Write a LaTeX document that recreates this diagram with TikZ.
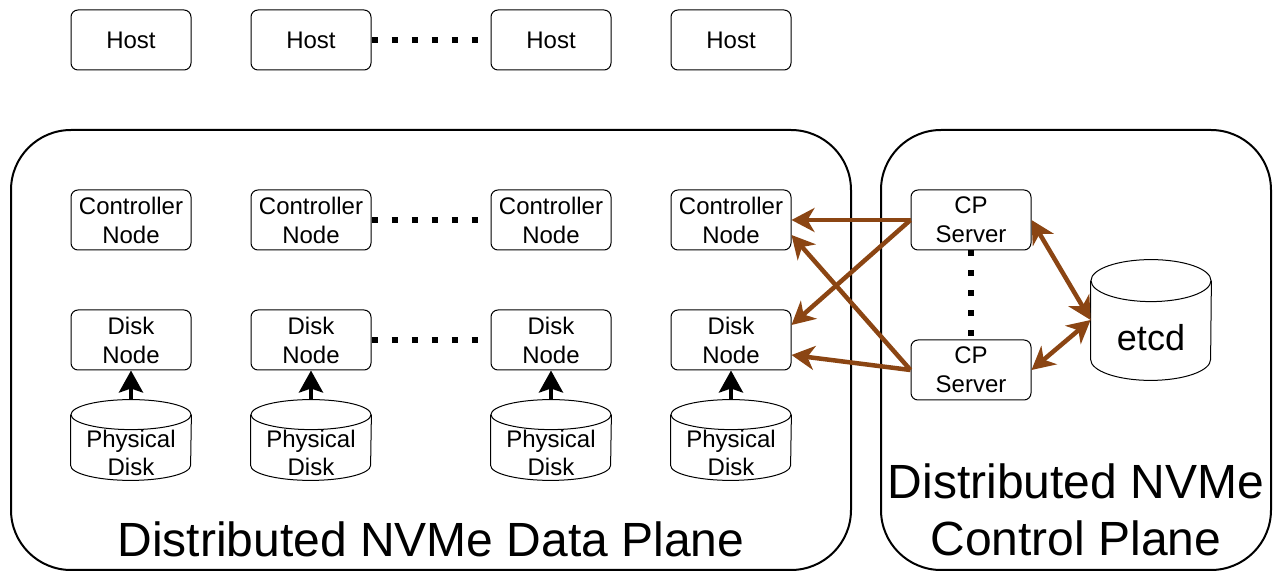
\documentclass[tikz,border=0pt]{standalone}
\usepackage{fontspec}
\setmainfont{Liberation Sans}
\usetikzlibrary{positioning, arrows.meta}
\definecolor{cpbrown}{HTML}{8B4513}

% cylinder outline round a named node: node, y radius of the ends
\newcommand{\drawdrum}[2]{%
    \draw[line width=0.5pt] ([yshift=-#2]#1.north) ellipse [x radius=30pt, y radius=#2];
    \draw[line width=0.5pt] ([yshift=-#2]#1.north west) -- ([yshift=#2]#1.south west)
        arc[start angle=180, end angle=360, x radius=30pt, y radius=#2] -- ([yshift=-#2]#1.north east);
}

\begin{document}
\begin{tikzpicture}[x=0.5pt, y=-0.5pt,
        box/.style={draw, rounded corners=3.5pt, line width=0.5pt, minimum width=60pt, minimum height=30pt, inner sep=0pt, align=center, font=\fontsize{12}{14.5}\selectfont},
        disk/.style={minimum width=60pt, minimum height=40pt, inner sep=0pt},
        disklabel/.style={align=center, font=\fontsize{12}{14}\selectfont},
        plane/.style={draw, line width=1pt, rounded corners=30pt},
        planelabel/.style={align=center, font=\fontsize{24}{28.5}\selectfont},
        dots/.style={line width=3pt, dash pattern=on 3pt off 7pt},
        feed/.style={-{Stealth[length=11pt, width=12pt, inset=2pt]}, line width=2pt},
        ctrl/.style={-{Stealth[length=11.5pt, width=12pt, inset=3.5pt]}, line width=2.25pt, draw=cpbrown},
        ctrlboth/.style={ctrl, {Stealth[length=11.5pt, width=12pt, inset=3.5pt]}-{Stealth[length=11.5pt, width=12pt, inset=3.5pt]}}
    ]
        \useasboundingbox (0,0) rectangle (1282,582);

        % Planes
        \draw[plane] (11,130) rectangle (851,570);
        \draw[plane] (881,130) rectangle (1271,570);
        \node[planelabel] (dplabel) at (431,539) {Distributed NVMe Data Plane};
        \node[planelabel] (cplabel) at (1076,510) {Distributed NVMe\\Control Plane};

        % Hosts
        \node[box] (h1) at (131,40) {Host};
        \node[box] (h2) at (311,40) {Host};
        \node[box] (h3) at (551,40) {Host};
        \node[box] (h4) at (731,40) {Host};

        % Controller nodes
        \node[box] (cn1) at (131,220) {Controller\\Node};
        \node[box] (cn2) at (311,220) {Controller\\Node};
        \node[box] (cn3) at (551,220) {Controller\\Node};
        \node[box] (cn4) at (731,220) {Controller\\Node};

        % Disk nodes
        \node[box] (dn1) at (131,340) {Disk\\Node};
        \node[box] (dn2) at (311,340) {Disk\\Node};
        \node[box] (dn3) at (551,340) {Disk\\Node};
        \node[box] (dn4) at (731,340) {Disk\\Node};

        % Physical disks
        \node[disk, label={[disklabel, yshift=-6.5pt]center:{Physical\\Disk}}] (pd1) at (131,440) {};
        \node[disk, label={[disklabel, yshift=-6.5pt]center:{Physical\\Disk}}] (pd2) at (311,440) {};
        \node[disk, label={[disklabel, yshift=-6.5pt]center:{Physical\\Disk}}] (pd3) at (551,440) {};
        \node[disk, label={[disklabel, yshift=-6.5pt]center:{Physical\\Disk}}] (pd4) at (731,440) {};
        \drawdrum{pd1}{7.5pt}
        \drawdrum{pd2}{7.5pt}
        \drawdrum{pd3}{7.5pt}
        \drawdrum{pd4}{7.5pt}

        \draw[feed] (pd1.north) -- (dn1.south);
        \draw[feed] (pd2.north) -- (dn2.south);
        \draw[feed] (pd3.north) -- (dn3.south);
        \draw[feed] (pd4.north) -- (dn4.south);

        % Dotted gaps
        \draw[dots] (h2.east) -- (h3.west);
        \draw[dots] (cn2.east) -- (cn3.west);
        \draw[dots] (dn2.east) -- (dn3.west);

        % Control plane
        \node[box] (cp1) at (971,220) {CP\\Server};
        \node[box] (cp2) at (971,370) {CP\\Server};
        \node[disk, minimum height=60pt, label={[planelabel, font=\fontsize{18}{20}\selectfont, yshift=-9pt]center:etcd}] (etcd) at (1151,320) {};
        \drawdrum{etcd}{10.5pt}
        \draw[dots] (cp1.south) -- (cp2.north);

        \draw[ctrl] (cp1.west) -- (cn4.east);
        \draw[ctrl] (cp1.west) -- ([yshift=7.5pt]dn4.east);
        \draw[ctrl] (cp2.west) -- ([yshift=-7.5pt]cn4.east);
        \draw[ctrl] (cp2.west) -- ([yshift=-7.5pt]dn4.east);
        \draw[ctrlboth] (cp1.east) -- (etcd.west);
        \draw[ctrlboth] (cp2.east) -- (etcd.west);

    \end{tikzpicture}
\end{document}
